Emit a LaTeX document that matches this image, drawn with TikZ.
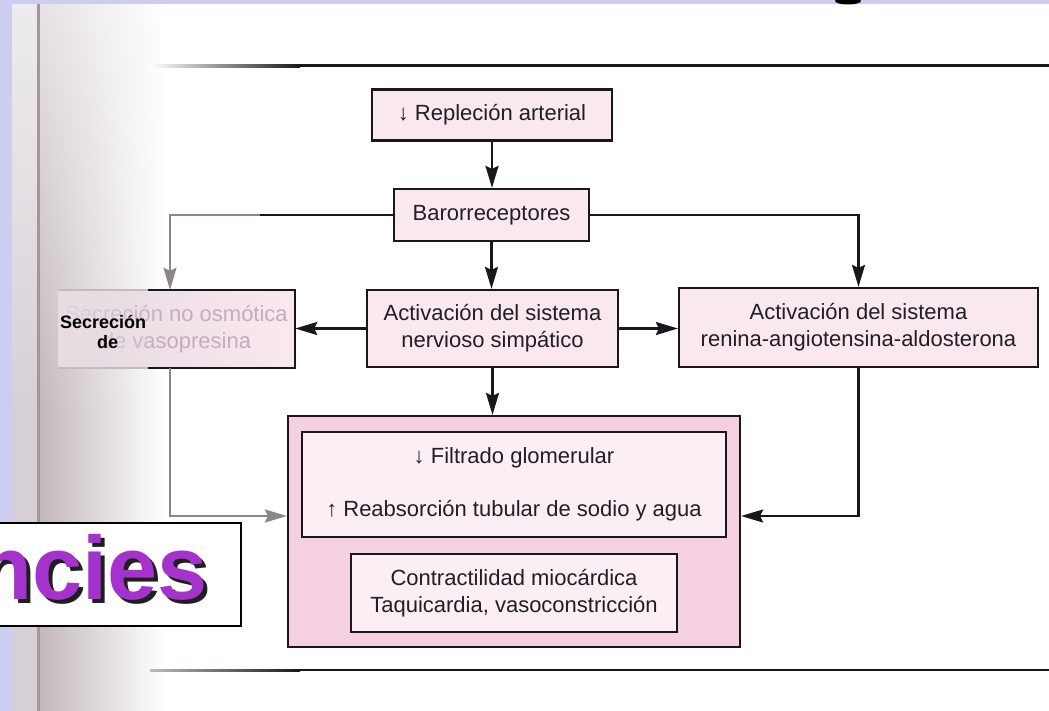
\documentclass[tikz,border=0pt]{standalone}
\usepackage{fontspec}
\setmainfont{Liberation Sans}
\usetikzlibrary{arrows.meta,calc,fadings}

\definecolor{lav}{HTML}{CDCDF1}
\definecolor{ink}{HTML}{1A161E}
\definecolor{txt}{HTML}{201E28}
\definecolor{boxpink}{HTML}{FAE8EF}
\definecolor{bigpink}{HTML}{F5D0E0}
\definecolor{innerpink}{HTML}{FCEFF4}
\definecolor{fadegray}{HTML}{8E848C}
\definecolor{fadetext}{HTML}{C2ADBB}
\definecolor{sideA}{HTML}{D6D0D6}
\definecolor{sideC}{HTML}{C3B8BB}
\definecolor{sideB}{HTML}{A3979F}
\definecolor{secleft}{HTML}{E6DCE2}
\definecolor{purp}{HTML}{A532CD}

\tikzset{
  boxline/.style={draw=ink, line width=2.2pt},
  flowbox/.style={boxline, fill=boxpink, align=center, text=txt, inner sep=0pt,
    font=\fontsize{22}{27}\selectfont},
  tip/.style={-{Stealth[length=22pt,width=13pt,inset=3pt]}},
  conn/.style={line width=2.2pt, draw=ink, tip},
  plainline/.style={line width=2.2pt, draw=ink},
  fadeconn/.style={line width=2pt, draw=fadegray, tip},
}

\begin{document}
\begin{tikzpicture}[x=1pt,y=-1pt]
\useasboundingbox (0,0) rectangle (1049,711);
\clip (0,0) rectangle (1049,711);

% page background and blurred left margin
\fill[white] (0,0) rectangle (1049,711);
\fill[sideA] (12,4) rectangle (40,711);
\shade[left color=sideC, right color=white] (40,4) rectangle (165,711);
\fill[white, opacity=0.6, path fading=south] (12,4) rectangle (165,420);
\fill[sideB] (37,4) rectangle (39.5,711);
\fill[lav] (0,0) rectangle (12,711);
\fill[lav] (0,0) rectangle (1049,4);
\fill[black] (848,1) ellipse [x radius=13pt, y radius=3.5pt];

% rules above and below the chart
\shade[left color=white, right color=ink] (150,64.5) rectangle (300,67.5);
\fill[ink] (300,64.5) rectangle (1049,67.5);
\shade[left color=sideC, right color=ink] (150,669) rectangle (300,671);
\fill[ink] (300,669) rectangle (1049,671);

% boxes
\node[flowbox, minimum width=240pt, minimum height=51pt] (rep) at (492,115) {↓ Repleción arterial};
\node[flowbox, minimum width=195pt, minimum height=52pt] (baro) at (491.5,215) {Barorreceptores};
\node[flowbox, minimum width=251pt, minimum height=77pt] (sns) at (492.5,328.5) {Activación del sistema\\nervioso simpático};
\node[flowbox, minimum width=359pt, minimum height=79pt] (raa) at (858.5,327.5) {Activación del sistema\\renina-angiotensina-aldosterona};

% faded vasopressin box
\node[inner sep=0pt, minimum width=237pt, minimum height=78pt, left color=secleft, right color=boxpink,
  align=center, text=fadetext, font=\fontsize{22}{27}\selectfont] (sec) at (176.5,329) {Secreción no osmótica\\de vasopresina};
\fill[secleft, opacity=0.9, path fading=east] (58,292) rectangle (168,366);
\draw[boxline, draw=fadegray!55] (sec.north west) -- ([xshift=90pt]sec.north west);
\draw[boxline, draw=fadegray!55] (sec.south west) -- ([xshift=90pt]sec.south west);
\draw[boxline] ([xshift=90pt]sec.north west) -- (sec.north east) -- (sec.south east) -- ([xshift=90pt]sec.south west);
\node[anchor=base west, inner sep=0pt, font=\bfseries\fontsize{18}{20}\selectfont, text=black] (secA) at (60,328) {Secreción};
\node[anchor=base west, inner sep=0pt, font=\bfseries\fontsize{18}{20}\selectfont, text=black] (secB) at (97,348) {de};

% renal effects
\node[boxline, fill=bigpink, minimum width=452pt, minimum height=231pt] (big) at (514,531.5) {};
\node[flowbox, fill=innerpink, minimum width=424pt, minimum height=105pt] (renal) at (514,484.5)
  {↓ Filtrado glomerular\\[26pt]↑ Reabsorción tubular de sodio y agua};
\node[flowbox, fill=innerpink, minimum width=326pt, minimum height=78pt] (card) at (514,593)
  {Contractilidad miocárdica\\Taquicardia, vasoconstricción};

% connectors
\coordinate (bfade) at (260,215);
\coordinate (secin) at ([xshift=-6.5pt]sec.north);
\coordinate (secout) at ([xshift=-6.5pt]sec.south);
\coordinate (bigL) at ([yshift=15.5pt]big.west);
\coordinate (bigR) at ([yshift=15.5pt]big.east);

\draw[conn] (rep.south) -- (rep.south |- baro.north);
\draw[conn] (baro.south) -- (baro.south |- sns.north);
\draw[conn] (baro.east) -| (raa.north);
\draw[plainline] (baro.west) -- (bfade);
\draw[fadeconn] (bfade) -| (secin);
\draw[conn] (sns.west) -- (sns.west -| sec.east);
\draw[conn] (sns.east) -- (sns.east -| raa.west);
\draw[conn] (sns.south) -- (sns.south |- big.north);
\draw[conn] (raa.south) |- (bigR);
\draw[fadeconn] (secout) |- (bigL);

% title fragment box
\node[draw=black, line width=2.2pt, fill=white, minimum width=246pt, minimum height=103pt, inner sep=0pt] (tbox) at (118,574.5) {};
\node[anchor=base east, inner sep=0pt, font=\bfseries\fontsize{90}{90}\selectfont, text=black!88] (tshadow) at (212,603) {ncies};
\node[anchor=base east, inner sep=0pt, font=\bfseries\fontsize{90}{90}\selectfont, text=purp] (title) at (208,599) {ncies};
\end{tikzpicture}
\end{document}
